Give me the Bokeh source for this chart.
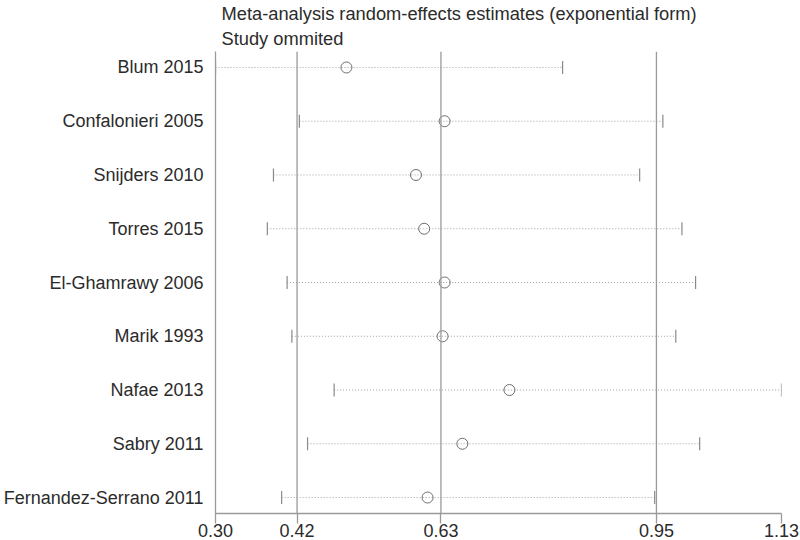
import math
from bokeh.plotting import figure
from bokeh.models import Range1d, FixedTicker, Span, Title, ColumnDataSource
from bokeh.embed import file_html
from bokeh.resources import INLINE

# ---- data ----
studies = ["Blum 2015", "Confalonieri 2005", "Snijders 2010", "Torres 2015",
           "El-Ghamrawy 2006", "Marik 1993", "Nafae 2013", "Sabry 2011",
           "Fernandez-Serrano 2011"]
estimate = [0.492, 0.636, 0.594, 0.606, 0.636, 0.633, 0.731, 0.662, 0.611]
lower = [0.300, 0.423, 0.385, 0.376, 0.405, 0.412, 0.474, 0.435, 0.397]
upper = [0.809, 0.956, 0.922, 0.984, 1.004, 0.975, 1.130, 1.010, 0.944]
overall = [0.4196, 0.6306, 0.9466]          # overall lower CI, estimate, upper CI
xtick_values = [0.300, 0.4196, 0.6306, 0.9466, 1.130]
xtick_labels = ["0.30", "0.42", "0.63", "0.95", "1.13"]
title_line1 = "Meta-analysis random-effects estimates (exponential form)"
title_line2 = "Study ommited"

FONT = "Liberation Sans"
TEXT = "#2b2b2b"
GREY = "#9a9a9a"

n = len(studies)
ypos = [n - i for i in range(n)]
src = ColumnDataSource(dict(y=ypos, est=estimate, lo=lower, hi=upper, name=studies))

p = figure(width=800, height=540, title=None,
           x_range=Range1d(min(xtick_values), max(xtick_values)),
           y_range=Range1d(0.703, n + 0.297),
           output_backend="svg", toolbar_location=None,
           min_border_left=215, min_border_right=19,
           min_border_top=0, min_border_bottom=27)
p.outline_line_color = None
p.xgrid.visible = False
p.ygrid.visible = False
p.background_fill_color = "white"
p.border_fill_color = "white"

# titles (first added sits closest to the frame)
p.add_layout(Title(text=title_line2, align="left", offset=6, standoff=5,
                   text_font=FONT, text_font_size="18.3px", text_font_style="normal",
                   text_color=TEXT), "above")
p.add_layout(Title(text=title_line1, align="left", offset=6, standoff=0,
                   text_font=FONT, text_font_size="18.3px", text_font_style="normal",
                   text_color=TEXT), "above")

# overall reference lines
for v in overall:
    p.add_layout(Span(location=v, dimension="height", line_color=GREY, line_width=1.3))

# CI dotted lines
p.segment(x0="lo", y0="y", x1="hi", y1="y", source=src,
          line_color="#a0a0a0", line_width=1, line_dash="1 2")
# CI end caps
p.scatter(x="lo", y="y", source=src, marker="dash", angle=math.pi / 2, size=13,
          line_color="#8a8a8a", line_width=1.2)
p.scatter(x="hi", y="y", source=src, marker="dash", angle=math.pi / 2, size=13,
          line_color="#8a8a8a", line_width=1.2)
# estimates
p.scatter(x="est", y="y", source=src, marker="circle", size=11,
          fill_color=None, line_color="#6e6e6e", line_width=1)

# x axis
xa = p.xaxis[0]
xa.ticker = FixedTicker(ticks=xtick_values)
xa.major_label_overrides = {v: l for v, l in zip(xtick_values, xtick_labels)}
xa.axis_line_color = GREY
xa.axis_line_width = 1.3
xa.major_tick_line_color = GREY
xa.major_tick_line_width = 1.3
xa.major_tick_in = 0
xa.major_tick_out = 10
xa.minor_tick_line_color = None
xa.major_label_standoff = 0
xa.major_label_text_font = FONT
xa.major_label_text_font_size = "18px"
xa.major_label_text_color = TEXT

# y axis
ya = p.yaxis[0]
ya.ticker = FixedTicker(ticks=ypos)
ya.major_label_overrides = {y: s for y, s in zip(ypos, studies)}
ya.axis_line_color = GREY
ya.axis_line_width = 1.3
ya.major_tick_line_color = None
ya.major_tick_in = 0
ya.major_tick_out = 0
ya.minor_tick_line_color = None
ya.major_label_standoff = 12
ya.major_label_text_font = FONT
ya.major_label_text_font_size = "18px"
ya.major_label_text_color = TEXT

open("out.html", "w").write(file_html(p, INLINE))
